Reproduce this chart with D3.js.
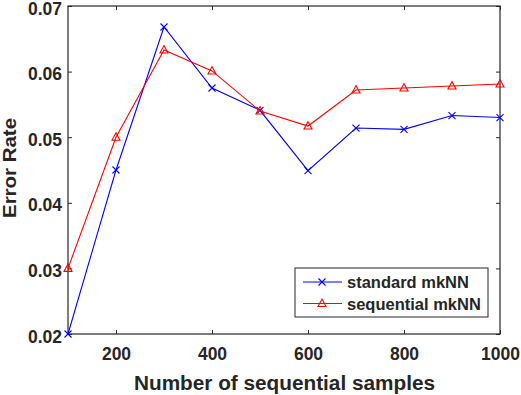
<!DOCTYPE html>
<html><head><meta charset="utf-8">
<script src="https://cdn.jsdelivr.net/npm/d3@7"></script>
<style>
body{margin:0;background:#fff;}
svg text{font-family:"Liberation Sans",Arial,sans-serif;font-weight:bold;fill:#262626;}
</style></head>
<body><svg id="c" width="521" height="395"></svg>
<script>
const samples = [100,200,300,400,500,600,700,800,900,1000];
const standardMkNN = [0.0200,0.0450,0.0668,0.0575,0.0541,0.0449,0.0514,0.0512,0.0533,0.0530];
const sequentialMkNN = [0.0300,0.0500,0.0633,0.0601,0.0540,0.0517,0.0572,0.0575,0.0578,0.0581];
const xTicks = [200,400,600,800,1000];
const yTicks = [0.02,0.03,0.04,0.05,0.06,0.07];
const seriesNames = ["standard mkNN","sequential mkNN"];

const svg = d3.select("#c");
const L=68,R=500,T=6,B=334;
const x = d3.scaleLinear().domain([100,1000]).range([L,R]);
const y = d3.scaleLinear().domain([0.02,0.07]).range([B,T]);
const ax="#262626";
const fs=17.5;

// axes
const gx = svg.append("g").attr("transform",`translate(0,${B})`)
  .call(d3.axisBottom(x).tickValues(xTicks).tickSizeInner(-4).tickSizeOuter(0).tickPadding(14).tickFormat(d3.format("d")));
const gy = svg.append("g").attr("transform",`translate(${L},0)`)
  .call(d3.axisLeft(y).tickValues(yTicks).tickSizeInner(-4).tickSizeOuter(0).tickPadding(6).tickFormat(d3.format(".2f")));
const gxt = svg.append("g").attr("transform",`translate(0,${T})`)
  .call(d3.axisTop(x).tickValues(xTicks).tickSizeInner(-4).tickSizeOuter(0).tickFormat(""));
const gyr = svg.append("g").attr("transform",`translate(${R},0)`)
  .call(d3.axisRight(y).tickValues(yTicks).tickSizeInner(-4).tickSizeOuter(0).tickFormat(""));
[gx,gy,gxt,gyr].forEach(g=>{g.selectAll("path").remove();g.selectAll("line").attr("stroke",ax);g.selectAll("text").attr("fill",ax).style("font-size",fs+"px").attr("font-family",null);});
gy.selectAll("text").attr("dy","0.46em");
svg.append("rect").attr("x",L).attr("y",T).attr("width",R-L).attr("height",B-T).attr("fill","none").attr("stroke",ax).attr("stroke-width",1.2);

svg.append("text").attr("x",(L+R)/2+0.5).attr("y",390).attr("text-anchor","middle").style("font-size","19.5px")
  .attr("textLength",301).attr("lengthAdjust","spacingAndGlyphs").text("Number of sequential samples");
svg.append("text").attr("transform",`translate(15.5,168) rotate(-90)`).attr("text-anchor","middle").style("font-size","19px")
  .attr("textLength",100).attr("lengthAdjust","spacingAndGlyphs").text("Error Rate");

const line = d3.line().x((d,i)=>x(samples[i])).y(d=>y(d));
function xMark(g,cx,cy,c){const s=3.5;g.append("path").attr("d",`M${cx-s},${cy-s}L${cx+s},${cy+s}M${cx-s},${cy+s}L${cx+s},${cy-s}`).attr("stroke",c).attr("fill","none").attr("stroke-width",1.1);}
function triMark(g,cx,cy,c){const s=4;g.append("path").attr("d",`M${cx},${cy-s*1.1}L${cx+s},${cy+s*0.75}L${cx-s},${cy+s*0.75}Z`).attr("stroke",c).attr("fill","none").attr("stroke-width",1.1);}

const g1=svg.append("g");
g1.append("path").datum(standardMkNN).attr("d",line).attr("fill","none").attr("stroke","#0000ff").attr("stroke-width",1.1);
standardMkNN.forEach((d,i)=>xMark(g1,x(samples[i]),y(d),"#0000ff"));
const g2=svg.append("g");
g2.append("path").datum(sequentialMkNN).attr("d",line).attr("fill","none").attr("stroke","#ff0000").attr("stroke-width",1.1);
sequentialMkNN.forEach((d,i)=>triMark(g2,x(samples[i]),y(d),"#ff0000"));

// legend
const lg=svg.append("g");
lg.append("rect").attr("x",295).attr("y",268).attr("width",193).attr("height",49).attr("fill","#fff").attr("stroke",ax).attr("stroke-width",1);
const cols=["#0000ff","#ff0000"];
seriesNames.forEach((n,i)=>{
  const yy=282+i*21.5;
  lg.append("line").attr("x1",303).attr("x2",342).attr("y1",yy).attr("y2",yy).attr("stroke",cols[i]).attr("stroke-width",1.1);
  if(i===0) xMark(lg,322,yy,cols[i]); else triMark(lg,322,yy,cols[i]);
  lg.append("text").attr("x",347).attr("y",yy+6).style("font-size","16.5px").text(n);
});
</script></body></html>
